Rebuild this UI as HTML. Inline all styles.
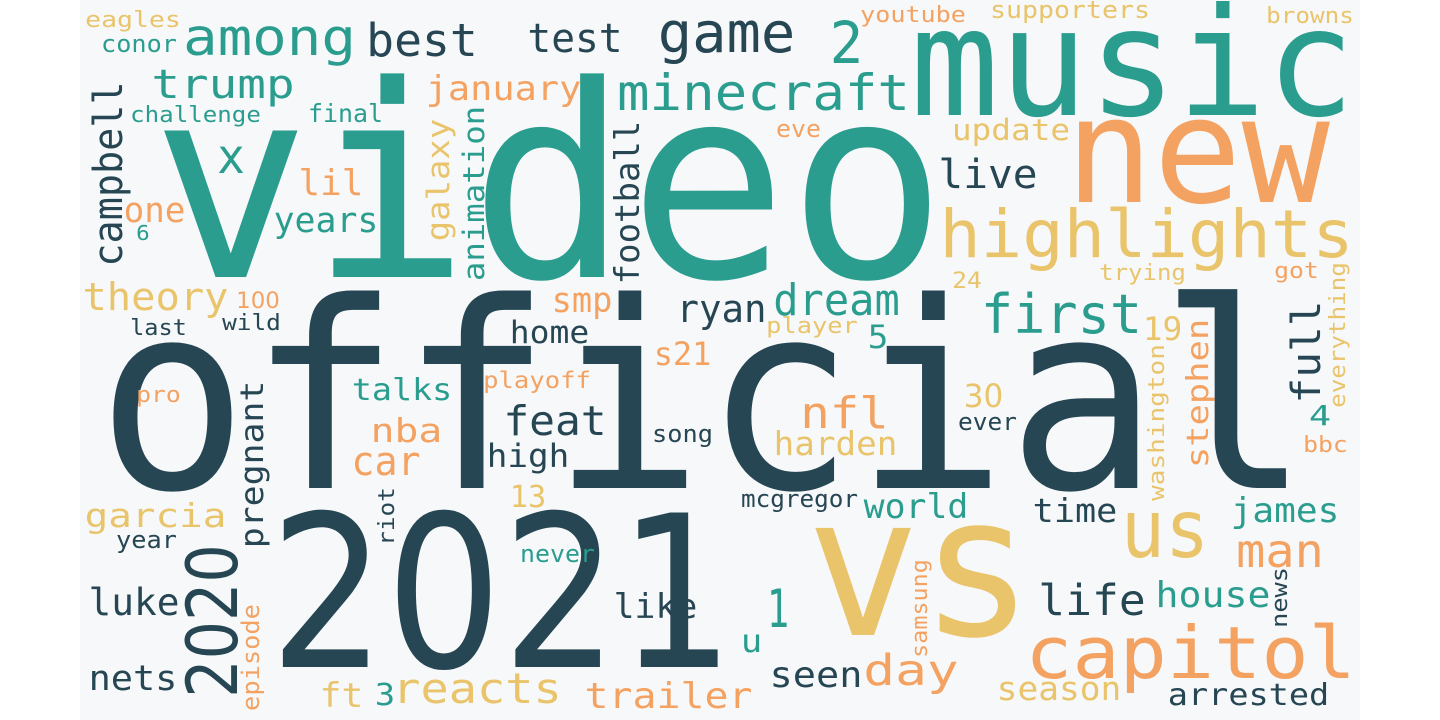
<!DOCTYPE html>
<html><head><meta charset="utf-8">
<style>
html,body{margin:0;padding:0;background:#fff;width:1440px;height:720px;overflow:hidden}
svg{display:block}
text{font-family:"DejaVu Sans Mono","Liberation Mono",monospace}
text.num{font-family:"DejaVu Sans","Liberation Sans",sans-serif}
</style></head>
<body>
<svg id="cloud" width="1440" height="720" viewBox="0 0 1440 720" xmlns="http://www.w3.org/2000/svg">
<rect x="80" y="0" width="1280" height="720" fill="#f7f8fa"/>
<g id="words"></g>
</svg>
<script>
const C={d:"#264653",t:"#2a9d8f",y:"#e9c46a",o:"#f4a261"};
// words in the cloud
const labels=[
"video","official","2021","vs","music","new","capitol","highlights","us","2020",
"minecraft","game","2","among","best","test","trump","january","challenge","final",
"campbell","x","lil","one","6","years","galaxy","animation","football","theory",
"100","last","wild","smp","home","ryan","s21","eagles","conor","youtube",
"supporters","browns","eve","update","live","trying","24","got","dream","first",
"player","5","19","everything","full","stephen","washington","pro","talks","playoff",
"pregnant","nba","feat","song","car","high","13","garcia","year","riot",
"never","luke","like","episode","nets","ft","3","reacts","trailer","nfl",
"30","ever","4","bbc","harden","mcgregor","world","time","james","man",
"1","samsung","life","house","news","u","seen","day","season","arrested"];
// weights (font size reflects frequency)
const weights=[
268,260,212,196,150,147,72,66,80,70,
50,56,58,51,45,40,40,34,22,25,
40,48,36,35,20,35,31,29,34,38,
22,22,22,35,31,38,32,22,24,22,
24,22,24,29,40,22,22,22,44,54,
22,32,32,22,40,30,22,22,30,23,
32,33,41,24,40,32,30,33,24,22,
24,37,34,24,35,34,30,42,36,44,
32,24,28,22,33,24,34,33,34,46,
53,22,43,36,22,32,36,43,33,30];
const colorKeys=[
"t","d","d","y","t","o","o","y","y","d",
"t","d","t","t","d","d","t","o","t","t",
"d","t","o","o","t","t","y","t","d","y",
"o","d","d","o","d","d","o","y","t","o",
"y","y","o","y","d","y","y","o","t","t",
"y","t","y","y","d","o","y","o","t","o",
"d","o","d","d","o","d","y","y","d","d",
"t","d","d","o","d","y","t","y","o","o",
"y","d","t","o","y","d","t","d","t","o",
"t","o","d","t","d","t","d","o","y","d"];
</script>
<script>
// layout: left x (or baseline x if rotated), baseline y (or bottom y if rotated), ink width/length
const layoutX=[162,107,278,814,916,1071,1028,942,1124,237,
619,660,832,185,368,529,153,427,131,309,
122,219,300,125,137,275,449,484,639,84,
237,131,223,553,511,678,655,86,102,861,
991,1267,777,953,940,1100,953,1275,775,983,
767,869,1144,1345,1320,1208,1164,137,353,484,
263,372,505,653,353,488,511,86,117,394,
521,90,615,259,90,321,376,394,586,802,
965,959,1310,1304,775,742,865,1034,1232,1238,
769,927,1040,1157,1287,742,771,865,998,1169];
const layoutY=[277,488,667,635,115,202,678,257,557,695,
110,52,63,55,56,52,98,100,122,122,
265,173,195,222,240,232,240,280,283,310,
308,335,330,312,343,322,365,27,52,22,
18,23,137,140,188,280,288,278,315,333,
333,348,340,407,402,467,500,402,400,388,
547,442,435,442,475,467,507,527,548,545,
562,615,618,710,690,707,705,703,708,428,
407,430,425,452,455,507,518,522,522,567,
627,657,615,607,627,652,687,685,700,705];
const layoutW=[774,1193,448,212,433,253,325,409,82,148,
289,133,29,169,108,92,140,153,129,73,
182,24,62,59,12,102,120,173,161,143,
42,55,57,58,77,87,55,94,74,104,
158,86,43,116,96,85,28,43,123,157,
90,18,37,144,100,147,155,43,98,106,
165,69,100,59,66,80,34,139,59,57,
73,88,81,105,86,41,18,166,165,85,
37,57,20,43,121,115,102,82,106,84,
18,97,104,112,59,19,90,92,122,159];
const rotated=new Set(["campbell","galaxy","animation","football","everything","full","stephen","washington","pregnant","riot","2020","episode","samsung","news"]);

const g=document.getElementById('words');
const NS="http://www.w3.org/2000/svg";
labels.forEach((w,i)=>{
  const s=weights[i];
  const t=document.createElementNS(NS,'text');
  t.textContent=w;
  if(w.indexOf('0')>=0) t.setAttribute('class','num');
  t.setAttribute('font-size',s);
  t.setAttribute('fill',C[colorKeys[i]]);
  t.setAttribute('textLength',layoutW[i]+0.08*s);
  t.setAttribute('lengthAdjust','spacingAndGlyphs');
  if(rotated.has(w)){
    t.setAttribute('x',-0.04*s);
    t.setAttribute('y',0);
    t.setAttribute('transform','translate('+layoutX[i]+','+layoutY[i]+') rotate(-90)');
  }else{
    t.setAttribute('x',layoutX[i]-0.04*s);
    t.setAttribute('y',layoutY[i]);
  }
  
  
  g.appendChild(t);
});
</script>
</body></html>
